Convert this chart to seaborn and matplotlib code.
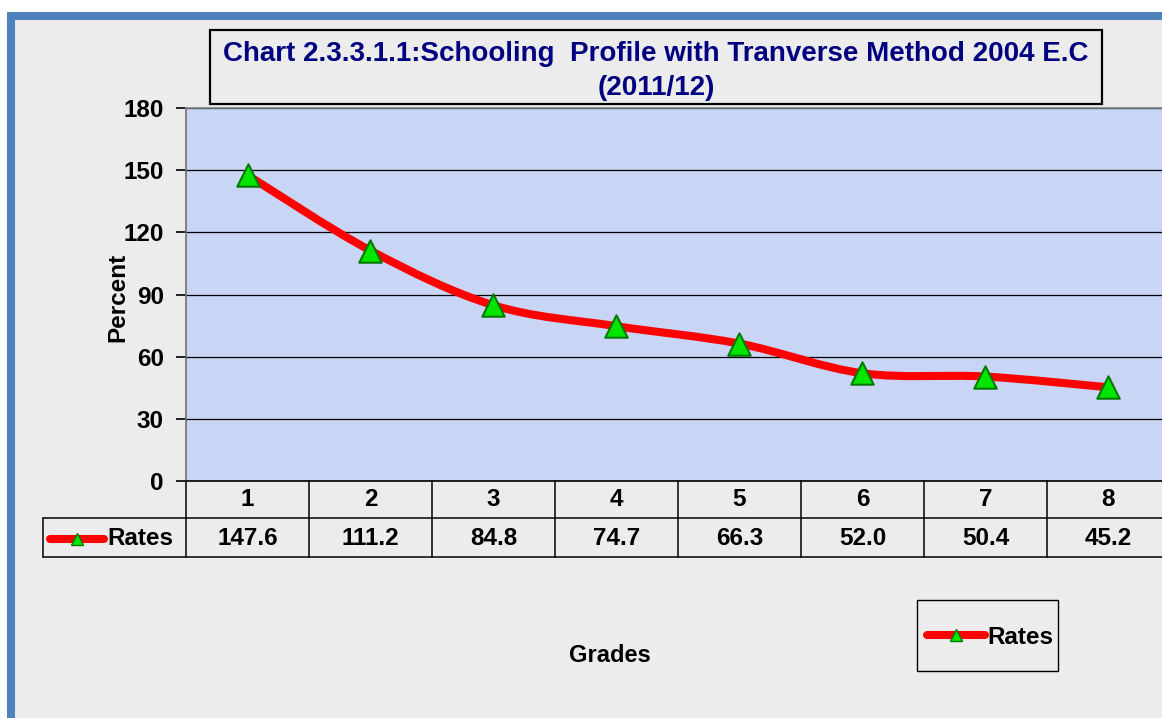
import numpy as np
import pandas as pd
import matplotlib
matplotlib.use('Agg')
import matplotlib.pyplot as plt
import seaborn as sns
from matplotlib.path import Path
from matplotlib.patches import PathPatch, Rectangle
from matplotlib.lines import Line2D
import matplotlib.transforms as mtrans

# ---- data ----
grades = ['1', '2', '3', '4', '5', '6', '7', '8']
rates = [147.6, 111.2, 84.8, 74.7, 66.3, 52.0, 50.4, 45.2]
series_name = 'Rates'
title_text = 'Chart 2.3.3.1.1:Schooling  Profile with Tranverse Method 2004 E.C\n(2011/12)'
yticks = [0, 30, 60, 90, 120, 150, 180]
x_label = 'Grades'
y_label = 'Percent'

sns.set_theme(style='white')
plt.rcParams['font.family'] = ['Liberation Sans', 'DejaVu Sans']
plt.rcParams['font.weight'] = 'bold'
plt.rcParams['text.color'] = 'black'
plt.rcParams['axes.labelcolor'] = 'black'
plt.rcParams['ytick.color'] = 'black'
plt.rcParams['xtick.color'] = 'black'

FS = 17.5
W, H = 1162, 718
fig = plt.figure(figsize=(W / 100, H / 100), dpi=100)
fig.patch.set_facecolor('white')


def fx(p):
    return p / W


def fy(p):
    return 1 - p / H


# page background with blue frame
fig.patches.append(Rectangle((fx(11), fy(740)), fx(1200) - fx(11), fy(16) - fy(740),
                             transform=fig.transFigure, facecolor='#ECECEC',
                             edgecolor='#4F81BD', linewidth=5.8, zorder=-5))

ax = fig.add_axes([fx(186), fy(481), (1170 - 186) / W, (481 - 108) / H])
ax.set_facecolor('#C8D5F4')

x = np.arange(1, len(grades) + 1)
df = pd.DataFrame({'grade': x, 'rate': rates})

# smoothed line (Catmull-Rom Bezier through the data points)
pts = np.column_stack([x, rates]).astype(float)
verts = [tuple(pts[0])]
codes = [Path.MOVETO]
n = len(pts)
for i in range(n - 1):
    p0 = pts[i - 1] if i > 0 else pts[i]
    p1 = pts[i]
    p2 = pts[i + 1]
    p3 = pts[i + 2] if i + 2 < n else pts[i + 1]
    c1 = p1 + (p2 - p0) / 6.0
    c2 = p2 - (p3 - p1) / 6.0
    verts += [tuple(c1), tuple(c2), tuple(p2)]
    codes += [Path.CURVE4] * 3
ax.add_patch(PathPatch(Path(verts, codes), facecolor='none', edgecolor='#FF0000',
                       lw=5.8, capstyle='round', joinstyle='round', zorder=3))

sns.scatterplot(data=df, x='grade', y='rate', marker='^', s=260, color='#00E600',
                edgecolor='#007A00', linewidth=1.5, zorder=4, ax=ax, legend=False)

ax.set_xlim(0.5, len(grades) + 0.5)
ax.set_ylim(0, 180)
ax.set_yticks(yticks)
ax.set_xticks([])
ax.set_xlabel('')
ax.set_ylabel('')
ax.yaxis.grid(True, color='black', lw=0.9)
ax.set_axisbelow(True)
ax.tick_params(axis='y', left=True, direction='out', length=7, width=1.2,
               color='black', labelsize=FS, pad=9)
for lab in ax.get_yticklabels():
    lab.set_fontweight('bold')
for s, c in [('left', '#707070'), ('top', '#808080'), ('bottom', 'black')]:
    ax.spines[s].set_visible(True)
    ax.spines[s].set_color(c)
    ax.spines[s].set_linewidth(1.2)
ax.spines['right'].set_visible(False)

# ---- data table under the axis ----
trans = mtrans.blended_transform_factory(ax.transData, ax.transAxes)
r1 = (481 - 518) / 373
r2 = (481 - 557) / 373
xleft = 0.5 + (43 - 186) / 123
for b in np.arange(0.5, len(grades) + 1, 1.0):
    ax.plot([b, b], [0, r2], transform=trans, color='black', lw=1.1, clip_on=False)
ax.plot([xleft, len(grades) + 0.5], [r1, r1], transform=trans, color='black', lw=1.1, clip_on=False)
ax.plot([xleft, len(grades) + 0.5], [r2, r2], transform=trans, color='black', lw=1.1, clip_on=False)
ax.plot([xleft, xleft], [r1, r2], transform=trans, color='black', lw=1.1, clip_on=False)
for xi, g, v in zip(x, grades, rates):
    ax.text(xi, r1 / 2, g, transform=trans, ha='center', va='center', fontsize=FS, fontweight='bold')
    ax.text(xi, (r1 + r2) / 2 - 0.004, f'{v:.1f}', transform=trans, ha='center', va='center',
            fontsize=FS, fontweight='bold')
ym = (r1 + r2) / 2 - 0.004
gx0 = 0.5 + (50 - 186) / 123
gx1 = 0.5 + (104 - 186) / 123
ax.plot([gx0, gx1], [ym, ym], transform=trans, color='#FF0000', lw=5.8,
        solid_capstyle='round', clip_on=False)
ax.plot([(gx0 + gx1) / 2], [ym], transform=trans, marker='^', ms=9, mfc='#00E600',
        mec='#007A00', mew=1, clip_on=False)
ax.text(0.5 + (107 - 186) / 123, ym, series_name, transform=trans, ha='left', va='center',
        fontsize=FS, fontweight='bold')

# ---- legend ----
handle = Line2D([], [], color='#FF0000', lw=5.8, marker='^', ms=9, mfc='#00E600',
                mec='#007A00', mew=1, solid_capstyle='round')
leg = ax.legend(handles=[handle], labels=[series_name], loc='center',
                bbox_to_anchor=(fx(990), fy(637)), bbox_transform=fig.transFigure,
                frameon=False, fontsize=FS, handlelength=2.4, handletextpad=0.1,
                borderpad=0.0)
for t in leg.get_texts():
    t.set_fontweight('bold')
fig.patches.append(Rectangle((fx(917), fy(671)), fx(1058) - fx(917), fy(600) - fy(671),
                             transform=fig.transFigure, facecolor='none',
                             edgecolor='black', linewidth=1.0, zorder=5))

# ---- title ----
fig.patches.append(Rectangle((fx(210), fy(104)), fx(1102) - fx(210), fy(30) - fy(104),
                             transform=fig.transFigure, facecolor='none',
                             edgecolor='black', linewidth=1.6, zorder=5))
fig.text(fx(656), fy(71), title_text, ha='center', va='center', color='#000080',
         fontsize=20, fontweight='bold', linespacing=1.38)

fig.text(fx(118), fy(297), y_label, rotation=90, ha='center', va='center',
         fontsize=17.5, fontweight='bold')
fig.text(fx(610), fy(655), x_label, ha='center', va='center', fontsize=17, fontweight='bold')

fig.savefig('out.png', dpi=100)
